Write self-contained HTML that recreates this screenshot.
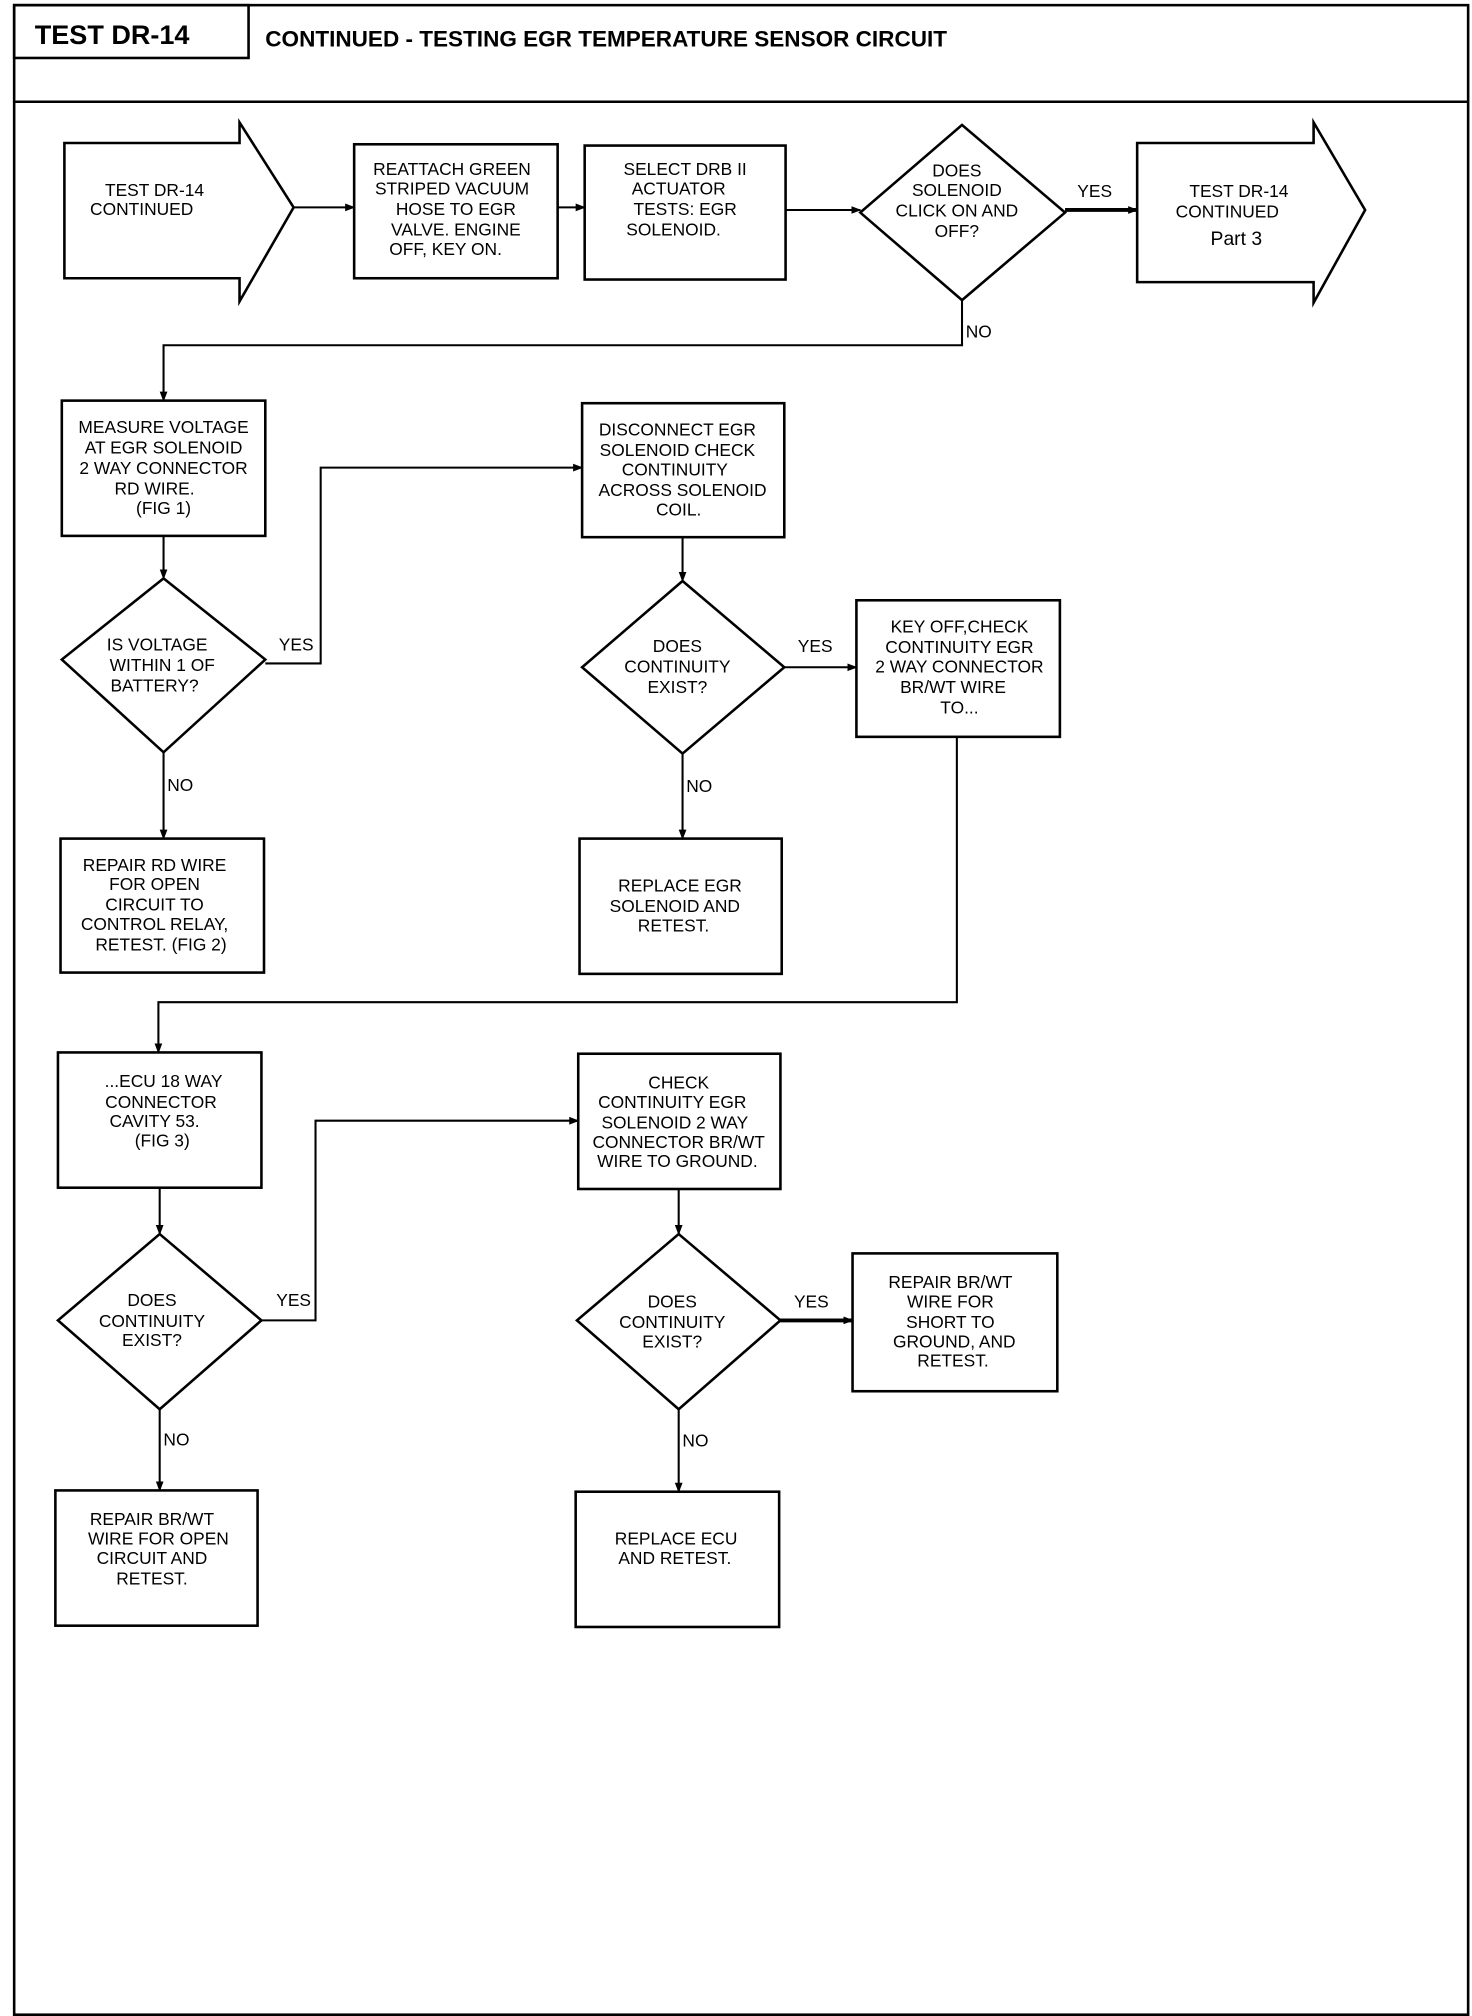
<!DOCTYPE html>
<html><head><style>html,body{margin:0;padding:0;background:#fff}svg{display:block}</style></head>
<body>
<svg width="1472" height="2016" viewBox="0 0 1143 1565" preserveAspectRatio="none" xmlns="http://www.w3.org/2000/svg">
<defs><marker id="a" markerWidth="8" markerHeight="8" refX="7" refY="4" orient="auto" markerUnits="userSpaceOnUse"><path d="M0,1 L8,4 L0,7 Z" fill="#000"/></marker></defs>
<g fill="none" stroke="#000" stroke-width="2">
<rect x="11" y="4" width="1129" height="1560"/>
<line x1="11" y1="79" x2="1140" y2="79"/>
<rect x="11" y="4" width="182" height="41"/>
<polygon points="50,111 186,111 186,95 228,161 186,234 186,216 50,216"/>
<rect x="275" y="112" width="158" height="104"/>
<rect x="454" y="113" width="156" height="104"/>
<polygon points="747,97 827,165 747,233 668,165"/>
<polygon points="883,111 1020,111 1020,95 1060,163 1020,235 1020,219 883,219"/>
<rect x="48" y="311" width="158" height="105"/>
<polygon points="127,449 206,512 127,584 48,512"/>
<rect x="47" y="651" width="158" height="104"/>
<rect x="452" y="313" width="157" height="104"/>
<polygon points="530,451 609,518 530,585 452,518"/>
<rect x="665" y="466" width="158" height="106"/>
<rect x="450" y="651" width="157" height="105"/>
<rect x="45" y="817" width="158" height="105"/>
<polygon points="124,958 203,1025 124,1094 45,1025"/>
<rect x="43" y="1157" width="157" height="105"/>
<rect x="449" y="818" width="157" height="105"/>
<polygon points="527,958 606,1025 527,1094 448,1025"/>
<rect x="662" y="973" width="159" height="107"/>
<rect x="447" y="1158" width="158" height="105"/>
</g>
<g fill="none" stroke="#000" stroke-width="1.6">
<line x1="228" y1="161" x2="275" y2="161" marker-end="url(#a)"/>
<line x1="433" y1="161" x2="454" y2="161" marker-end="url(#a)"/>
<line x1="610" y1="163" x2="668" y2="163" marker-end="url(#a)"/>
<line x1="827" y1="163" x2="883" y2="163" stroke-width="3" marker-end="url(#a)"/>
<polyline points="747,233 747,268 127,268 127,311" marker-end="url(#a)"/>
<line x1="127" y1="416" x2="127" y2="449" marker-end="url(#a)"/>
<polyline points="206,515 249,515 249,363 452,363" marker-end="url(#a)"/>
<line x1="127" y1="584" x2="127" y2="651" marker-end="url(#a)"/>
<line x1="530" y1="417" x2="530" y2="451" marker-end="url(#a)"/>
<line x1="609" y1="518" x2="665" y2="518" marker-end="url(#a)"/>
<line x1="530" y1="585" x2="530" y2="651" marker-end="url(#a)"/>
<polyline points="743,572 743,778 123,778 123,817" marker-end="url(#a)"/>
<line x1="124" y1="922" x2="124" y2="958" marker-end="url(#a)"/>
<polyline points="203,1025 245,1025 245,870 449,870" marker-end="url(#a)"/>
<line x1="124" y1="1094" x2="124" y2="1157" marker-end="url(#a)"/>
<line x1="527" y1="923" x2="527" y2="958" marker-end="url(#a)"/>
<line x1="606" y1="1025" x2="662" y2="1025" stroke-width="3" marker-end="url(#a)"/>
<line x1="527" y1="1094" x2="527" y2="1158" marker-end="url(#a)"/>
</g>
<g font-family="Liberation Sans, sans-serif" font-weight="bold">
<text x="27" y="34" font-size="21">TEST DR-14</text>
<text x="206" y="36" font-size="17.5">CONTINUED - TESTING EGR TEMPERATURE SENSOR CIRCUIT</text>
</g>
<g font-family="Liberation Sans, sans-serif" font-size="13.5" text-anchor="middle" fill="#000">
<text x="120" y="152">TEST DR-14</text><text x="110" y="167">CONTINUED</text>
<text x="351" y="136">REATTACH GREEN</text><text x="351" y="151">STRIPED VACUUM</text><text x="354" y="167">HOSE TO EGR</text><text x="354" y="183">VALVE. ENGINE</text><text x="346" y="198">OFF, KEY ON.</text>
<text x="532" y="136">SELECT DRB II</text><text x="527" y="151">ACTUATOR</text><text x="532" y="167">TESTS: EGR</text><text x="523" y="183">SOLENOID.</text>
<text x="743" y="137">DOES</text><text x="743" y="152">SOLENOID</text><text x="743" y="168">CLICK ON AND</text><text x="743" y="184">OFF?</text>
<text x="850" y="153">YES</text><text x="760" y="262">NO</text>
<text x="962" y="153">TEST DR-14</text><text x="953" y="169">CONTINUED</text><text x="960" y="190" font-size="15">Part 3</text>
<text x="127" y="336">MEASURE VOLTAGE</text><text x="127" y="352">AT EGR SOLENOID</text><text x="127" y="368">2 WAY CONNECTOR</text><text x="120" y="384">RD WIRE.</text><text x="127" y="399">(FIG 1)</text>
<text x="122" y="505">IS VOLTAGE</text><text x="126" y="521">WITHIN 1 OF</text><text x="120" y="537">BATTERY?</text>
<text x="230" y="505">YES</text><text x="140" y="614">NO</text>
<text x="120" y="676">REPAIR RD WIRE</text><text x="120" y="691">FOR OPEN</text><text x="120" y="707">CIRCUIT TO</text><text x="120" y="722">CONTROL RELAY,</text><text x="125" y="738">RETEST. (FIG 2)</text>
<text x="526" y="338">DISCONNECT EGR</text><text x="526" y="354">SOLENOID CHECK</text><text x="524" y="369">CONTINUITY</text><text x="530" y="385">ACROSS SOLENOID</text><text x="527" y="400">COIL.</text>
<text x="526" y="506">DOES</text><text x="526" y="522">CONTINUITY</text><text x="526" y="538">EXIST?</text>
<text x="633" y="506">YES</text><text x="543" y="615">NO</text>
<text x="745" y="491">KEY OFF,CHECK</text><text x="745" y="507">CONTINUITY EGR</text><text x="745" y="522">2 WAY CONNECTOR</text><text x="740" y="538">BR/WT WIRE</text><text x="745" y="554">TO...</text>
<text x="528" y="692">REPLACE EGR</text><text x="524" y="708">SOLENOID AND</text><text x="523" y="723">RETEST.</text>
<text x="127" y="844">...ECU 18 WAY</text><text x="125" y="860">CONNECTOR</text><text x="120" y="875">CAVITY 53.</text><text x="126" y="890">(FIG 3)</text>
<text x="118" y="1014">DOES</text><text x="118" y="1030">CONTINUITY</text><text x="118" y="1045">EXIST?</text>
<text x="228" y="1014">YES</text><text x="137" y="1122">NO</text>
<text x="118" y="1184">REPAIR BR/WT</text><text x="123" y="1199">WIRE FOR OPEN</text><text x="118" y="1214">CIRCUIT AND</text><text x="118" y="1230">RETEST.</text>
<text x="527" y="845">CHECK</text><text x="522" y="860">CONTINUITY EGR</text><text x="524" y="876">SOLENOID 2 WAY</text><text x="527" y="891">CONNECTOR BR/WT</text><text x="526" y="906">WIRE TO GROUND.</text>
<text x="522" y="1015">DOES</text><text x="522" y="1031">CONTINUITY</text><text x="522" y="1046">EXIST?</text>
<text x="630" y="1015">YES</text><text x="540" y="1123">NO</text>
<text x="738" y="1000">REPAIR BR/WT</text><text x="738" y="1015">WIRE FOR</text><text x="738" y="1031">SHORT TO</text><text x="741" y="1046">GROUND, AND</text><text x="740" y="1061">RETEST.</text>
<text x="525" y="1199">REPLACE ECU</text><text x="524" y="1214">AND RETEST.</text>
</g>
</svg>
</body></html>
